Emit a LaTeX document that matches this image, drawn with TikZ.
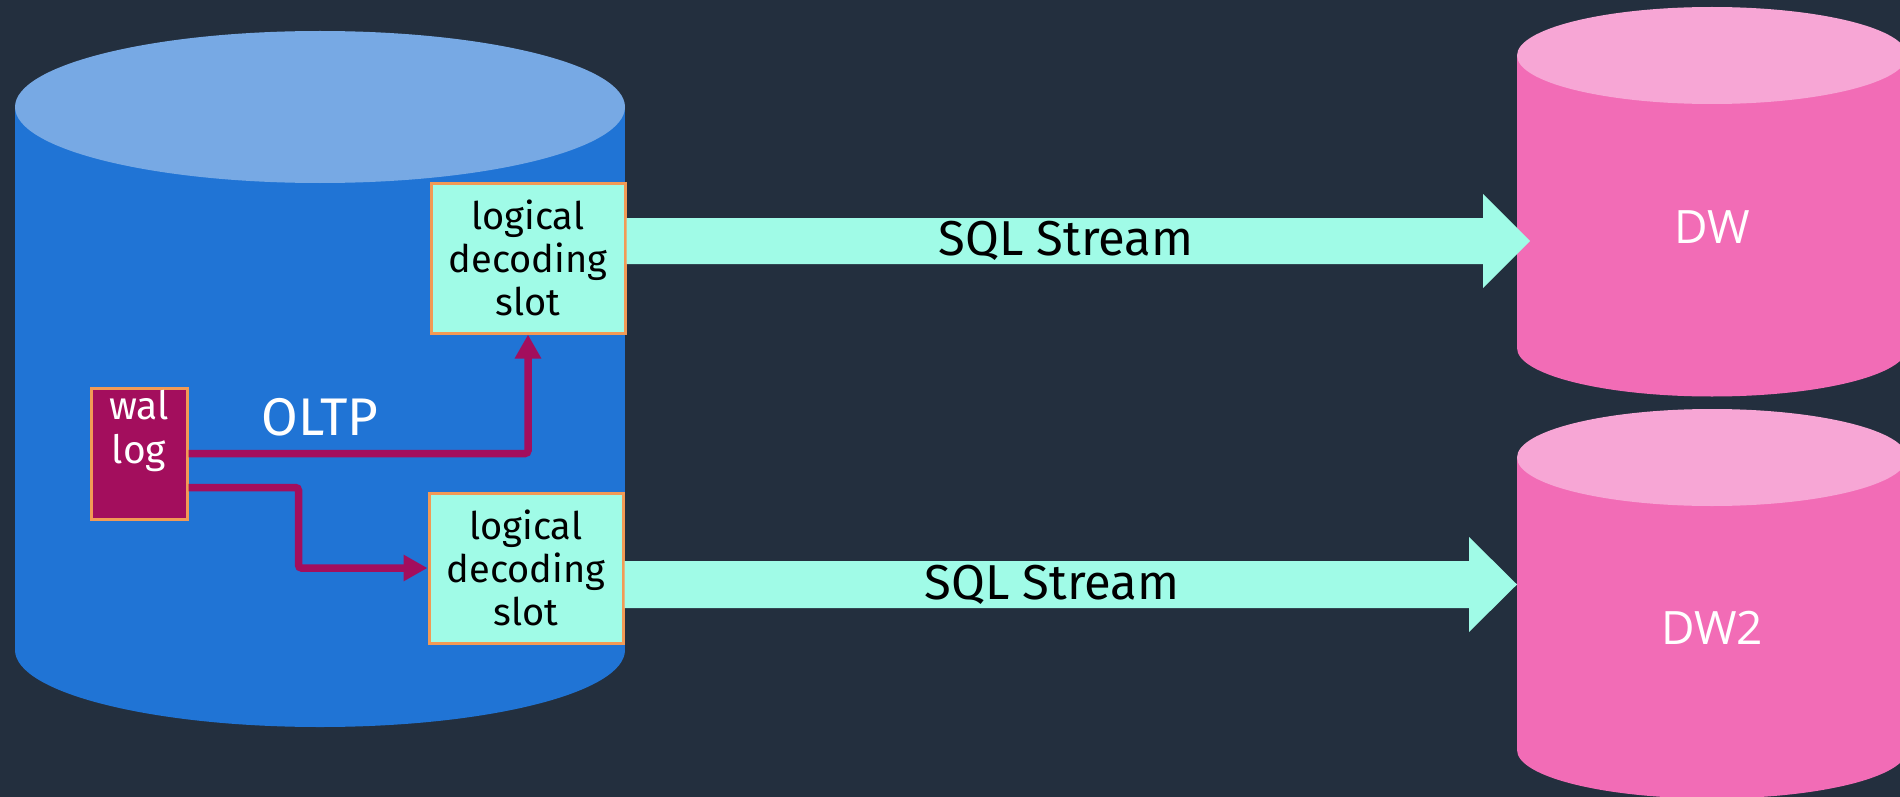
\documentclass[tikz,border=0pt]{standalone}
\usepackage{fontspec}
\setmainfont{Fira Sans}
\newfontfamily\dwfont{Open Sans}
\usetikzlibrary{arrows.meta}

\definecolor{bg}{HTML}{232F3E}
\definecolor{pgbody}{HTML}{2074D5}
\definecolor{pgtop}{HTML}{77A9E4}
\definecolor{aqua}{HTML}{A0FBE7}
\definecolor{edgeorange}{HTML}{F29A55}
\definecolor{walred}{HTML}{A30E5D}
\definecolor{dwbody}{HTML}{F26CB6}
\definecolor{dwtop}{HTML}{F7A6D5}

\tikzset{
  slotbox/.style={draw=edgeorange, line width=3pt, fill=aqua, minimum width=194pt,
    minimum height=150pt, inner sep=0pt, align=center, text=black,
    font=\fontsize{38}{43}\selectfont},
  walbox/.style={draw=edgeorange, line width=3pt, fill=walred, minimum width=96pt,
    minimum height=131pt, inner sep=0pt},
  whitelabel/.style={text=white, inner sep=0pt, align=center},
  streamlabel/.style={text=black, inner sep=0pt, font=\fontsize{49}{55}\selectfont},
  dwlabel/.style={text=white, inner sep=0pt, font=\dwfont\fontsize{46}{50}\selectfont},
  flow/.style={draw=walred, line width=7.5pt, rounded corners=3pt,
    -{Triangle[length=24pt,width=25pt]}},
  bigarrow/.style={fill=aqua},
}

\begin{document}
\begin{tikzpicture}[x=1pt,y=-1pt]
% canvas
\fill[bg] (0,0) rectangle (1900,797);
\useasboundingbox (0,0) rectangle (1900,797);

% source PostgreSQL cylinder
\fill[pgbody] (15,107) rectangle (625,650);
\fill[pgbody] (320,650) ellipse[x radius=305pt, y radius=77pt];
\fill[pgtop] (320,107) ellipse[x radius=305pt, y radius=76pt];

% target warehouse cylinders
\fill[dwbody] (1517,55.5) rectangle (1907,348);
\fill[dwbody] (1712,348) ellipse[x radius=195pt, y radius=48.5pt];
\fill[dwtop] (1712,55.5) ellipse[x radius=195pt, y radius=48.5pt];

\fill[dwbody] (1517,457.5) rectangle (1907,750);
\fill[dwbody] (1712,750) ellipse[x radius=195pt, y radius=48.5pt];
\fill[dwtop] (1712,457.5) ellipse[x radius=195pt, y radius=48.5pt];

\node[dwlabel] (dw1) at (1712,227) {DW};
\node[dwlabel] (dw2) at (1712,628) {DW2};

% replication slots
\node[slotbox] (slot1) at (528,258) {logical\\decoding\\slot};
\node[slotbox] (slot2) at (526,568) {logical\\decoding\\slot};

% write-ahead log
\node[walbox] (wal) at (139,453.5) {};
\node[whitelabel, font=\fontsize{39}{44}\selectfont] (waltext) at (139,431) {wal\\log};
\node[whitelabel, font=\fontsize{53}{56}\selectfont] (oltp) at (320,417) {OLTP};

% wal -> slots
\draw[flow] (wal.east) -| (slot1.south);
\draw[flow] ([yshift=-34pt]wal.east) -- ++(110,0) |- (slot2.west);

% SQL streams to the warehouses
\coordinate (tip1) at (1530,241);
\coordinate (tip2) at (1517,584.5);
\fill[bigarrow] (slot1.east |- 0,218) -- (1483,218) -- (1483,194) -- (tip1)
  -- (1483,288) -- (1483,264) -- (slot1.east |- 0,264) -- cycle;
\fill[bigarrow] (slot2.east |- 0,561) -- (1469,561) -- (1469,537) -- (tip2)
  -- (1469,632) -- (1469,608) -- (slot2.east |- 0,608) -- cycle;
\node[streamlabel] (s1) at (1066,241) {SQL Stream};
\node[streamlabel] (s2) at (1052,585) {SQL Stream};
\end{tikzpicture}
\end{document}
